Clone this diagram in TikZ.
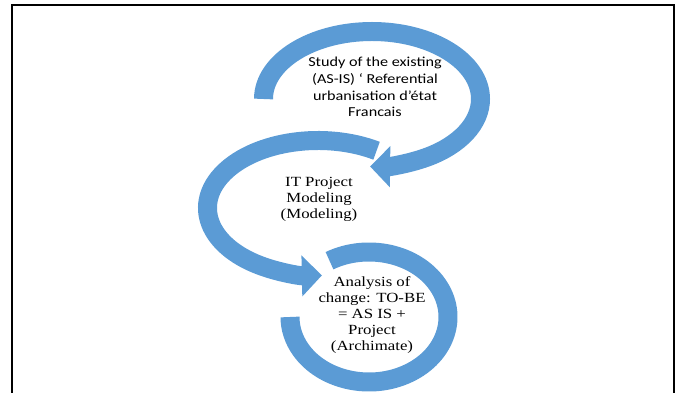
\documentclass[tikz,border=0pt]{standalone}
\usepackage{fontspec}
\setmainfont{Liberation Serif}
\newfontfamily\calibri{Carlito}
\usetikzlibrary{arrows.meta}

\begin{document}
\begin{tikzpicture}[x=1pt, y=1pt,
    loop/.style={line width=19pt, arcblue},
    head/.style={-{Triangle[length=20pt, width=40pt]}},
    steptext/.style={align=center, xscale=1.2, transform shape,
        font=\fontsize{14}{16}\selectfont}]

% Define colors
\definecolor{arcblue}{RGB}{91, 155, 213}

% Fixed page size
\useasboundingbox (0,0) rectangle (680,393);

% Frame (open at the bottom)
\draw[line width=1.5pt] (12,-5) -- (12,388) -- (674,388) -- (674,-5);

% Centres of the three loops
\coordinate (c1) at (372,294);
\coordinate (c2) at (318,185);
\coordinate (c3) at (369,76);

% Loop 1 - study of the existing
\draw[loop, head] (c1) ++(180:108.5 and 67.5)
    arc[start angle=180, end angle=-91, x radius=108.5, y radius=67.5];

% Loop 2 - project modeling
\draw[loop, head] (c2) ++(58:110.5 and 67.5)
    arc[start angle=58, end angle=272, x radius=110.5, y radius=67.5];

% Loop 3 - analysis of change
\draw[loop] (c3) ++(120:79 and 65)
    arc[start angle=120, end angle=-180, x radius=79, y radius=65];

% Labels
\node[steptext, xscale=0.985, font=\calibri\fontsize{13.7}{16.7}\selectfont] (study) at (375,306)
    {Study of the existing\\(AS-IS) ‘ Referential\\urbanisation d’état\\Francais};
\node[steptext] (model) at (319,194) {IT Project\\Modeling\\(Modeling)};
\node[steptext] (change) at (372,78) {Analysis of\\change: TO-BE\\= AS IS +\\Project\\(Archimate)};

\end{tikzpicture}
\end{document}
